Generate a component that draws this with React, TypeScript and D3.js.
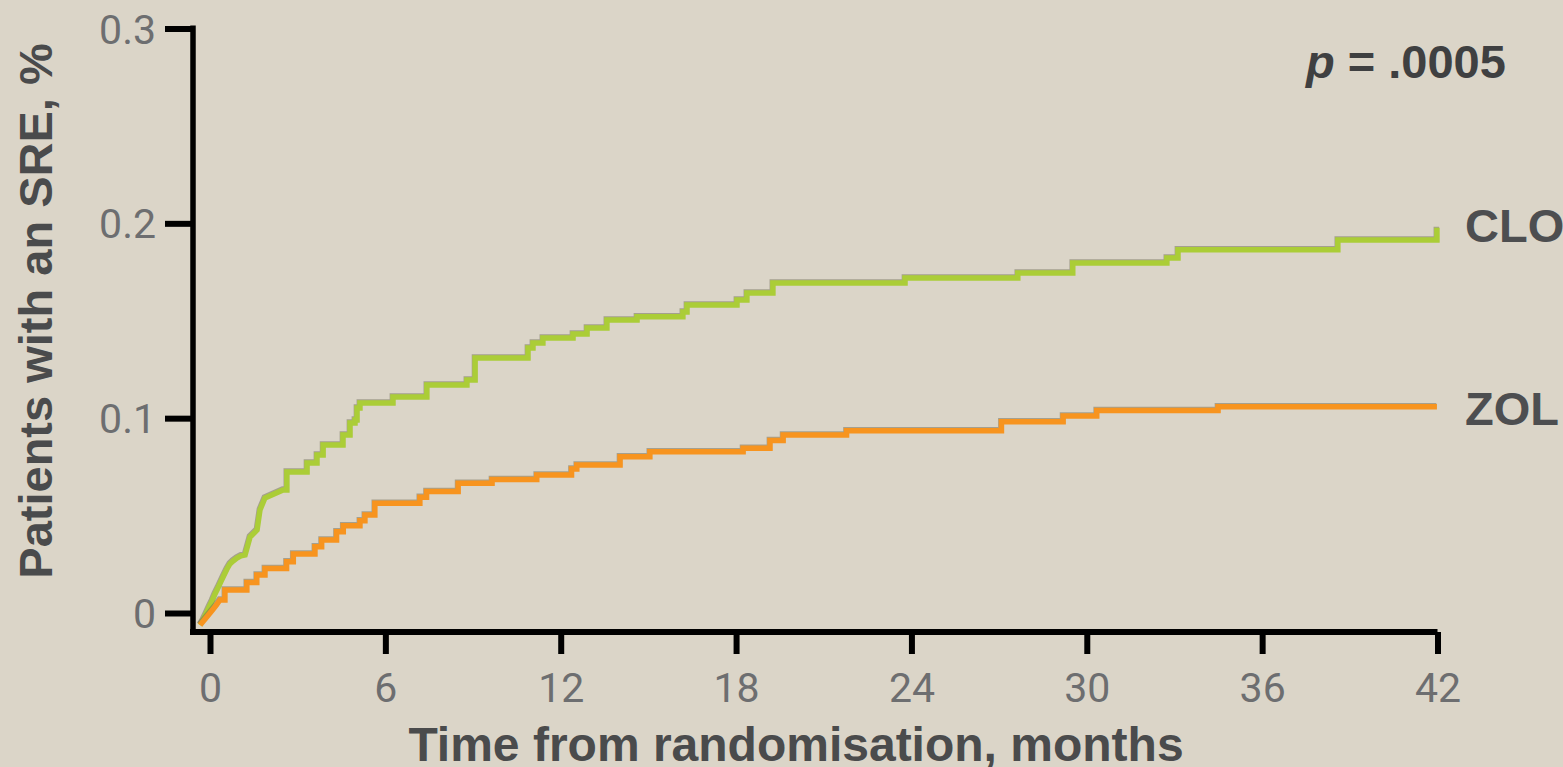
import React, { useEffect, useRef } from "react";
import * as d3 from "d3";

// Cumulative incidence of SRE (months, proportion)
const cloMonths = [
  -0.34, -0.24, -0.14, -0.03, 0.07, 0.17, 0.27, 0.38, 0.48, 0.58, 0.68, 0.79, 0.92, 1.06, 1.2,
  1.37, 1.61, 1.71, 1.88, 2.5, 2.63, 3.32, 3.66, 3.87, 4.55, 4.79, 4.96, 5.03, 5.13, 6.26,
  7.42, 8.79, 9.07, 10.88, 11.05, 11.39, 12.42, 12.9, 13.58, 14.61, 16.18, 16.32, 18.03, 18.37,
  19.26, 23.78, 27.64, 29.52, 32.74, 33.12, 38.59, 41.98,
];
const cloValues = [
  -0.0062, -0.0036, -0.0005, 0.0031, 0.0062, 0.0098, 0.0128, 0.0164, 0.0195, 0.0226, 0.0252,
  0.0267, 0.0282, 0.0293, 0.0298, 0.039, 0.0426, 0.0529, 0.059, 0.0631, 0.0724, 0.077, 0.0811,
  0.0862, 0.0914, 0.0975, 0.0991, 0.1052, 0.1078, 0.1109, 0.117, 0.1196, 0.1309, 0.136, 0.1386,
  0.1412, 0.1432, 0.1463, 0.1504, 0.152, 0.1545, 0.1581, 0.1607, 0.1643, 0.1694, 0.172, 0.1745,
  0.1797, 0.1822, 0.1864, 0.1915, 0.1977,
];

const zolMonths = [
  -0.34, -0.21, -0.07, 0.07, 0.21, 0.34, 0.51, 1.26, 1.6, 1.88, 2.62, 2.85, 3.59, 3.82, 4.33,
  4.56, 5.13, 5.3, 5.64, 7.18, 7.41, 8.49, 9.65, 11.18, 12.37, 12.55, 14.03, 15.05, 18.24,
  19.16, 19.61, 21.78, 27.08, 29.19, 30.34, 34.49, 41.98,
];
const zolValues = [
  -0.0062, -0.0039, -0.0013, 0.0013, 0.0039, 0.0067, 0.0118, 0.0156, 0.0195, 0.0229, 0.0263,
  0.0303, 0.034, 0.0375, 0.0417, 0.0448, 0.0474, 0.0503, 0.0563, 0.0594, 0.0623, 0.0666,
  0.0685, 0.0708, 0.0739, 0.076, 0.0802, 0.0828, 0.0845, 0.0886, 0.0914, 0.0936, 0.0982,
  0.1011, 0.1039, 0.1059, 0.1059,
];

// the first few points of each curve are drawn as a plain polyline, the rest as steps
const cloRampPoints = 20;
const zolRampPoints = 6;

const xTicks = [0, 6, 12, 18, 24, 30, 36, 42];
const yTicks = [0, 0.1, 0.2, 0.3];
const yTickLabels = ["0", "0.1", "0.2", "0.3"];

const W = 1563;
const H = 767;

const App = () => {
  const svgRef = useRef<SVGSVGElement>(null);

  useEffect(() => {
    document.body.style.margin = "0";
    const svg = d3.select(svgRef.current);
    svg.selectAll("*").remove();

    svg.append("rect").attr("width", W).attr("height", H).attr("fill", "#dbd5c8");

    const x = d3.scaleLinear().domain([0, 42]).range([210, 1437.5]);
    const y = d3.scaleLinear().domain([0, 0.3]).range([613, 28.5]);

    const tickFont = "Roboto, 'DejaVu Sans', sans-serif";

    // x axis
    const xAxis = d3.axisBottom(x).tickValues(xTicks).tickSize(22).tickSizeOuter(0);
    const gx = svg.append("g").attr("transform", "translate(0,632)").call(xAxis);
    gx.select(".domain").remove();
    gx.append("path")
      .attr("d", `M190,0H${x(42)}`)
      .attr("stroke", "#000")
      .attr("stroke-width", 6);
    gx.selectAll(".tick line").attr("stroke", "#000").attr("stroke-width", 6);
    gx.selectAll(".tick text")
      .attr("y", 70)
      .attr("dy", 0)
      .attr("fill", "#6d6e70")
      .style("font-family", tickFont)
      .style("font-size", "41px");

    // y axis
    const yAxis = d3
      .axisLeft(y)
      .tickValues(yTicks)
      .tickFormat((d, i) => yTickLabels[i])
      .tickSize(28)
      .tickSizeOuter(0)
      .tickPadding(9);
    const gy = svg.append("g").attr("transform", "translate(193,0)").call(yAxis);
    gy.select(".domain").remove();
    gy.append("path")
      .attr("d", `M0,${y(0.3) - 3}V635`)
      .attr("stroke", "#000")
      .attr("stroke-width", 5.5);
    gy.selectAll(".tick line").attr("stroke", "#000").attr("stroke-width", 6);
    gy.selectAll(".tick text")
      .attr("dy", "0.355em")
      .attr("fill", "#6d6e70")
      .style("font-family", tickFont)
      .style("font-size", "41px");

    // curves: polyline for the early ramp, then step-after corners
    const line = d3
      .line<[number, number]>()
      .x((d) => x(d[0]))
      .y((d) => y(d[1]));

    const buildPoints = (months: number[], values: number[], ramp: number) => {
      const pts: [number, number][] = [];
      months.forEach((m, i) => {
        if (i >= ramp) pts.push([m, values[i - 1]]);
        pts.push([m, values[i]]);
      });
      return pts;
    };

    const series = [
      { pts: buildPoints(cloMonths, cloValues, cloRampPoints), color: "#abcd37" },
      { pts: buildPoints(zolMonths, zolValues, zolRampPoints), color: "#f7941f" },
    ];

    series.forEach((s) => {
      svg
        .append("path")
        .attr("d", line(s.pts))
        .attr("fill", "none")
        .attr("stroke", "#6f6c55")
        .attr("stroke-opacity", 0.5)
        .attr("stroke-width", 5.5)
        .attr("transform", "translate(-0.6,-1)");
      svg
        .append("path")
        .attr("d", line(s.pts))
        .attr("fill", "none")
        .attr("stroke", s.color)
        .attr("stroke-width", 5.5);
    });

    const bold = "'Liberation Sans', Arial, sans-serif";

    // series labels
    svg
      .append("text")
      .attr("x", 1465)
      .attr("y", 242)
      .attr("fill", "#4d4e50")
      .style("font-family", bold)
      .style("font-weight", "bold")
      .style("font-size", "47px")
      .text("CLO");
    svg
      .append("text")
      .attr("x", 1465)
      .attr("y", 425)
      .attr("fill", "#4d4e50")
      .style("font-family", bold)
      .style("font-weight", "bold")
      .style("font-size", "47px")
      .text("ZOL");

    const pLabel = svg
      .append("text")
      .attr("x", 1306)
      .attr("y", 78)
      .attr("fill", "#3f4041")
      .style("font-family", bold)
      .style("font-weight", "bold")
      .style("font-size", "47px");
    pLabel.append("tspan").style("font-style", "italic").text("p");
    pLabel.append("tspan").text(" = .0005");

    // axis titles
    svg
      .append("text")
      .attr("transform", "translate(52,311) rotate(-90)")
      .attr("text-anchor", "middle")
      .attr("fill", "#4a4b4c")
      .style("font-family", bold)
      .style("font-weight", "bold")
      .style("font-size", "47px")
      .text("Patients with an SRE, %");

    svg
      .append("text")
      .attr("x", 796)
      .attr("y", 761)
      .attr("text-anchor", "middle")
      .attr("fill", "#4a4b4c")
      .style("font-family", bold)
      .style("font-weight", "bold")
      .style("font-size", "48px")
      .text("Time from randomisation, months");
  }, []);

  return (
    <svg
      ref={svgRef}
      width={W}
      height={H}
      style={{ position: "absolute", left: 0, top: 0, display: "block" }}
    />
  );
};

export default App;
